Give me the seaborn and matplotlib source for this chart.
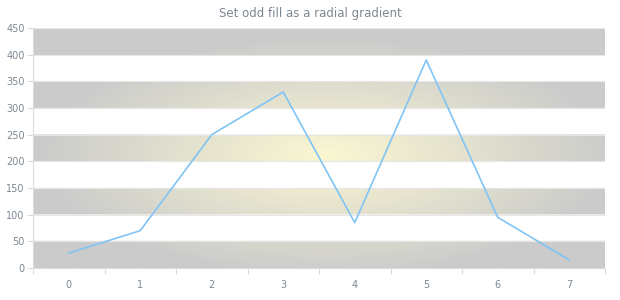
import numpy as np
import pandas as pd
import matplotlib
matplotlib.use("Agg")
import matplotlib.pyplot as plt
import seaborn as sns
from matplotlib.colors import to_rgb

categories = [0, 1, 2, 3, 4, 5, 6, 7]
values = [28, 70, 250, 330, 85, 390, 95, 15]
y_ticks = [0, 50, 100, 150, 200, 250, 300, 350, 400, 450]
title = "Set odd fill as a radial gradient"

sns.set_theme(style="white")
plt.rcParams["font.family"] = ["DejaVu Sans"]

fig = plt.figure(figsize=(6.2, 3.0), dpi=100)
ax = fig.add_axes([33 / 620, 32 / 300, 572 / 620, 240 / 300])

xmin, xmax = -0.5, len(categories) - 0.5
ymin, ymax = y_ticks[0], y_ticks[-1]

# Radial gradient (elliptical over the plot box) for the odd bands
nx, ny = 600, 300
gx = np.linspace(xmin, xmax, nx)
gy = np.linspace(ymin, ymax, ny)
X, Y = np.meshgrid(gx, gy)
cx, cy = (xmin + xmax) / 2 + 0.1, (ymin + ymax) / 2 - 15
rx, ry = (xmax - xmin) / 2, (ymax - ymin) / 2
d = np.clip(np.sqrt(((X - cx) / rx) ** 2 + ((Y - cy) / ry) ** 2), 0, 1)
inner = np.array(to_rgb("#fbf7d2"))
outer = np.array(to_rgb("#cbcbcb"))
img = inner[None, None, :] * (1 - d[..., None]) + outer[None, None, :] * d[..., None]
step = y_ticks[1] - y_ticks[0]
band = np.floor((Y - ymin) / step).astype(int)
alpha = (band % 2 == 0).astype(float)
rgba = np.dstack([img, alpha])
ax.imshow(rgba, extent=(xmin, xmax, ymin, ymax), origin="lower",
          aspect="auto", interpolation="bilinear", zorder=0)

# Horizontal grid lines
for t in y_ticks:
    ax.axhline(t, color="#e6e6e6", lw=0.8, zorder=1)

df = pd.DataFrame({"x": categories, "y": values})
sns.lineplot(data=df, x="x", y="y", ax=ax, color="#80c4f5", lw=1.2, zorder=3)

ax.set_xlim(xmin, xmax)
ax.set_ylim(ymin, ymax)
ax.set_xlabel("")
ax.set_ylabel("")

ax.set_xticks(categories)
ax.set_xticklabels([str(c) for c in categories])
ax.set_xticks(np.arange(xmin, xmax + 0.01, 1), minor=True)
ax.set_yticks(y_ticks)
ax.set_yticklabels([str(t) for t in y_ticks])

label_color = "#7d8790"
ax.tick_params(axis="x", which="major", length=0, pad=9, labelsize=7, colors=label_color)
ax.tick_params(axis="x", which="minor", length=4, width=0.8, color="#dcdcdc", bottom=True)
ax.tick_params(axis="y", which="major", length=4, width=0.8, color="#dcdcdc",
               labelsize=7, labelcolor=label_color, left=True, pad=2)

for s in ["top", "right"]:
    ax.spines[s].set_visible(False)
for s in ["left", "bottom"]:
    ax.spines[s].set_color("#dcdcdc")
    ax.spines[s].set_linewidth(0.8)

fig.text(0.5, 1 - 14 / 300, title, ha="center", va="center",
         fontsize=8.5, color=label_color)

fig.savefig("out.png", dpi=100)
